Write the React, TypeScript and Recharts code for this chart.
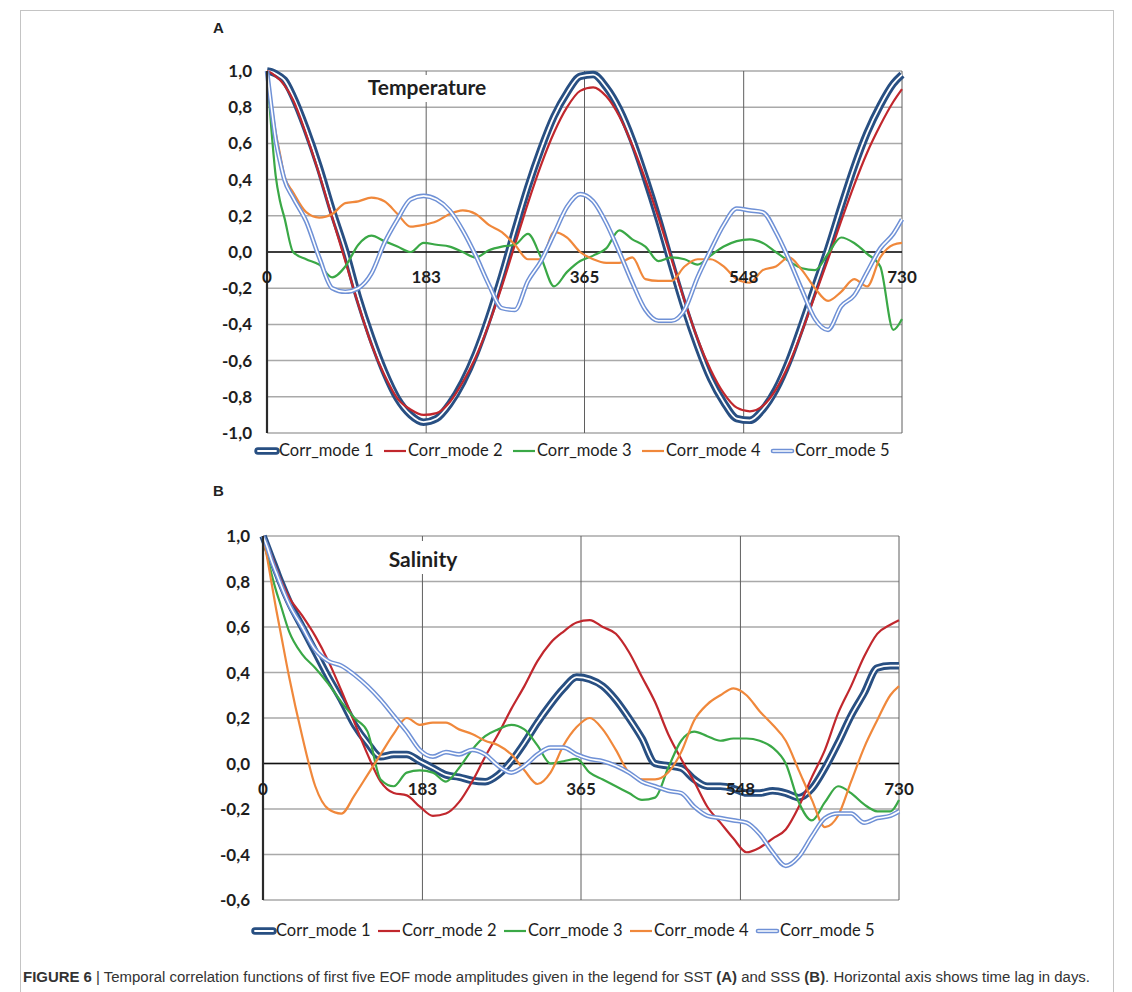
import React from 'react';
import { LineChart, Line, XAxis, YAxis, CartesianGrid, ReferenceLine, ReferenceDot } from 'recharts';

// Time lag in days (shared by all series)
const days = [0, 5, 10, 15, 20, 30, 45, 60, 75, 90, 105, 120, 135, 150, 165, 180, 195, 210, 225, 240, 255, 270, 285, 300, 315, 330, 345, 360, 375, 390, 405, 420, 435, 450, 465, 480, 495, 510, 525, 540, 555, 570, 585, 600, 615, 630, 645, 660, 675, 690, 705, 720, 730];

// Panel A: Temperature (SST)
const tempMode1 = [1.00, 0.995, 0.985, 0.97, 0.95, 0.86, 0.68, 0.47, 0.23, 0.01, -0.25, -0.47, -0.66, -0.81, -0.90, -0.94, -0.92, -0.84, -0.72, -0.56, -0.36, -0.13, 0.12, 0.36, 0.57, 0.75, 0.88, 0.97, 0.98, 0.91, 0.79, 0.62, 0.41, 0.18, -0.07, -0.31, -0.52, -0.70, -0.83, -0.92, -0.93, -0.87, -0.76, -0.60, -0.40, -0.19, 0.02, 0.25, 0.47, 0.66, 0.81, 0.93, 0.98];
const tempMode2 = [1.00, 0.99, 0.97, 0.95, 0.92, 0.84, 0.65, 0.43, 0.19, -0.05, -0.29, -0.51, -0.68, -0.81, -0.87, -0.90, -0.89, -0.83, -0.72, -0.58, -0.40, -0.19, 0.04, 0.27, 0.48, 0.66, 0.80, 0.89, 0.91, 0.86, 0.75, 0.59, 0.40, 0.19, -0.04, -0.27, -0.48, -0.65, -0.78, -0.86, -0.88, -0.85, -0.76, -0.62, -0.44, -0.24, -0.04, 0.17, 0.37, 0.55, 0.70, 0.83, 0.90];
const tempMode3 = [1.00, 0.68, 0.42, 0.28, 0.19, 0.00, -0.04, -0.07, -0.14, -0.08, 0.04, 0.09, 0.06, 0.03, 0.00, 0.05, 0.04, 0.03, 0.00, -0.03, 0.01, 0.03, 0.04, 0.10, -0.03, -0.19, -0.11, -0.05, -0.02, 0.02, 0.12, 0.07, 0.03, -0.05, -0.03, -0.04, -0.07, -0.02, 0.03, 0.06, 0.07, 0.05, 0.00, -0.05, -0.09, -0.10, -0.01, 0.08, 0.05, -0.01, -0.08, -0.43, -0.37];
const tempMode4 = [1.00, 0.82, 0.66, 0.54, 0.42, 0.33, 0.22, 0.19, 0.21, 0.27, 0.28, 0.30, 0.28, 0.21, 0.14, 0.15, 0.17, 0.21, 0.23, 0.21, 0.15, 0.11, 0.04, -0.04, -0.04, 0.11, 0.08, 0.00, -0.04, -0.06, -0.06, -0.03, -0.15, -0.16, -0.16, -0.08, -0.04, -0.04, -0.08, -0.15, -0.17, -0.10, -0.08, -0.03, -0.10, -0.20, -0.27, -0.22, -0.15, -0.19, -0.03, 0.04, 0.05];
const tempMode5 = [1.00, 0.80, 0.62, 0.50, 0.40, 0.30, 0.17, -0.03, -0.20, -0.22, -0.20, -0.12, 0.05, 0.18, 0.29, 0.31, 0.29, 0.23, 0.12, -0.02, -0.18, -0.31, -0.32, -0.16, -0.05, 0.10, 0.25, 0.32, 0.28, 0.16, 0.00, -0.17, -0.32, -0.38, -0.38, -0.32, -0.14, 0.01, 0.15, 0.24, 0.23, 0.22, 0.11, -0.04, -0.21, -0.37, -0.43, -0.30, -0.24, -0.11, 0.02, 0.10, 0.18];

// Panel B: Salinity (SSS)
const salMode1 = [1.00, 0.95, 0.90, 0.85, 0.80, 0.71, 0.60, 0.49, 0.38, 0.28, 0.17, 0.09, 0.03, 0.04, 0.04, 0.01, -0.02, -0.05, -0.06, -0.075, -0.08, -0.05, 0.01, 0.09, 0.18, 0.26, 0.33, 0.38, 0.37, 0.34, 0.28, 0.20, 0.11, 0.00, -0.01, -0.02, -0.07, -0.10, -0.10, -0.11, -0.13, -0.13, -0.12, -0.13, -0.15, -0.11, -0.02, 0.09, 0.21, 0.31, 0.42, 0.43, 0.43];
const salMode2 = [1.00, 0.96, 0.91, 0.86, 0.81, 0.73, 0.65, 0.56, 0.45, 0.32, 0.18, 0.04, -0.08, -0.13, -0.14, -0.19, -0.23, -0.22, -0.17, -0.08, 0.03, 0.13, 0.24, 0.34, 0.45, 0.53, 0.58, 0.62, 0.63, 0.60, 0.57, 0.49, 0.38, 0.27, 0.13, 0.02, -0.08, -0.19, -0.26, -0.33, -0.39, -0.37, -0.33, -0.29, -0.19, -0.06, 0.06, 0.22, 0.34, 0.47, 0.57, 0.61, 0.63];
const salMode3 = [1.00, 0.91, 0.83, 0.76, 0.70, 0.58, 0.48, 0.42, 0.35, 0.27, 0.20, 0.14, -0.07, -0.10, -0.04, -0.03, -0.04, -0.08, -0.02, 0.06, 0.12, 0.15, 0.17, 0.15, 0.08, 0.00, 0.01, 0.02, -0.04, -0.07, -0.10, -0.13, -0.16, -0.15, -0.02, 0.10, 0.14, 0.12, 0.10, 0.11, 0.11, 0.10, 0.07, 0.00, -0.17, -0.25, -0.17, -0.10, -0.13, -0.18, -0.21, -0.21, -0.16];
const salMode4 = [1.00, 0.90, 0.79, 0.68, 0.58, 0.38, 0.12, -0.10, -0.20, -0.22, -0.14, -0.05, 0.04, 0.13, 0.20, 0.17, 0.18, 0.18, 0.15, 0.13, 0.10, 0.08, 0.04, -0.03, -0.09, -0.04, 0.08, 0.16, 0.20, 0.15, 0.06, -0.04, -0.07, -0.07, -0.04, 0.05, 0.19, 0.26, 0.30, 0.33, 0.30, 0.23, 0.17, 0.10, -0.03, -0.16, -0.28, -0.23, -0.08, 0.07, 0.19, 0.30, 0.34];
const salMode5 = [1.00, 0.95, 0.89, 0.84, 0.79, 0.70, 0.60, 0.50, 0.45, 0.43, 0.39, 0.34, 0.28, 0.21, 0.14, 0.06, 0.03, 0.05, 0.04, 0.06, 0.04, -0.01, -0.04, -0.01, 0.04, 0.07, 0.07, 0.04, 0.02, 0.01, -0.01, -0.04, -0.08, -0.10, -0.12, -0.13, -0.19, -0.23, -0.24, -0.25, -0.26, -0.31, -0.39, -0.45, -0.41, -0.32, -0.24, -0.22, -0.22, -0.26, -0.24, -0.23, -0.21];

const xTickDays = [0, 183, 365, 548, 730];
const tempYTicks = [-1.0, -0.8, -0.6, -0.4, -0.2, 0, 0.2, 0.4, 0.6, 0.8, 1.0];
const salYTicks = [-0.6, -0.4, -0.2, 0, 0.2, 0.4, 0.6, 0.8, 1.0];
const seriesNames = ['Corr_mode 1', 'Corr_mode 2', 'Corr_mode 3', 'Corr_mode 4', 'Corr_mode 5'];

const NAVY = '#284f82';
const RED = '#c1272d';
const GREEN = '#3aa846';
const ORANGE = '#f0883b';
const LBLUE = '#6f91d6';
const seriesColors = [NAVY, RED, GREEN, ORANGE, LBLUE];

const FONT = "Lato, 'Open Sans', sans-serif";
const TEXT = '#1e1e1e';

const buildRows = (m1: number[], m2: number[], m3: number[], m4: number[], m5: number[]) =>
  days.map((d, i) => ({ day: d, m1: m1[i], m2: m2[i], m3: m3[i], m4: m4[i], m5: m5[i] }));

const tempData = buildRows(tempMode1, tempMode2, tempMode3, tempMode4, tempMode5);
const salData = buildRows(salMode1, salMode2, salMode3, salMode4, salMode5);

const fmt = (v: number) => v.toFixed(1).replace('.', ',');

function Panel(props: {
  data: any[];
  yTicks: number[];
  yDomain: [number, number];
  width: number;
  height: number;
  margin: { top: number; right: number; bottom: number; left: number };
  axisWidth: number;
  tickMargin: number;
}) {
  const { data, yTicks, yDomain, width, height, margin, axisWidth, tickMargin } = props;
  const common = { dot: false, activeDot: false, isAnimationActive: false, type: 'monotone' as const };
  return (
    <LineChart width={width} height={height} data={data} margin={margin}>
      <CartesianGrid vertical={false} stroke="#a9a9a9" strokeWidth={1.5} />
      <CartesianGrid horizontal={false} stroke="#5f5f5f" strokeWidth={1} />
      <XAxis dataKey="day" type="number" domain={[0, 730]} ticks={xTickDays} hide />
      <YAxis
        type="number"
        domain={yDomain}
        ticks={yTicks}
        interval={0}
        width={axisWidth}
        tickLine={false}
        tickSize={0}
        tickMargin={tickMargin}
        axisLine={{ stroke: '#2a2a2a', strokeWidth: 2.2 }}
        tick={{ fontFamily: FONT, fontSize: 17, fontWeight: 700, fill: TEXT }}
        tickFormatter={fmt}
      />
      <ReferenceLine y={0} stroke="#111" strokeWidth={1.6} />
      <Line dataKey="m1" stroke={NAVY} strokeWidth={7.5} {...common} />
      <Line dataKey="m1" stroke="#ffffff" strokeWidth={1.8} {...common} />
      <Line dataKey="m2" stroke={RED} strokeWidth={2.2} {...common} />
      <Line dataKey="m3" stroke={GREEN} strokeWidth={2.2} {...common} />
      <Line dataKey="m4" stroke={ORANGE} strokeWidth={2.2} {...common} />
      <Line dataKey="m5" stroke={LBLUE} strokeWidth={4.6} {...common} />
      <Line dataKey="m5" stroke="#ffffff" strokeWidth={1.6} {...common} />
      {xTickDays.map((d) => (
        <ReferenceDot
          key={d}
          x={d}
          y={0}
          r={0}
          fill="none"
          stroke="none"
          ifOverflow="visible"
          label={{ value: String(d), position: 'bottom', offset: 19, fill: TEXT, fontSize: 17, fontWeight: 700, fontFamily: FONT }}
        />
      ))}
    </LineChart>
  );
}

function LegendIcon({ x, y, i }: { x: number; y: number; i: number }) {
  const c = seriesColors[i];
  if (i === 0) {
    return (
      <g>
        <line x1={x + 3} y1={y} x2={x + 21} y2={y} stroke={c} strokeWidth={7.5} strokeLinecap="round" />
        <line x1={x + 3} y1={y} x2={x + 21} y2={y} stroke="#fff" strokeWidth={1.8} strokeLinecap="round" />
      </g>
    );
  }
  if (i === 4) {
    return (
      <g>
        <line x1={x + 2} y1={y} x2={x + 21} y2={y} stroke={c} strokeWidth={4.6} strokeLinecap="round" />
        <line x1={x + 2} y1={y} x2={x + 21} y2={y} stroke="#fff" strokeWidth={1.6} strokeLinecap="round" />
      </g>
    );
  }
  return <line x1={x} y1={y} x2={x + 22} y2={y} stroke={c} strokeWidth={2.2} />;
}

function LegendRow({ left, y, pitch }: { left: number; y: number; pitch: number }) {
  return (
    <g>
      {seriesNames.map((name, i) => {
        const x = left + i * pitch;
        return (
          <g key={name}>
            <LegendIcon x={x} y={y - 5} i={i} />
            <text x={x + 24} y={y} fontFamily={FONT} fontSize={16.5} fill={TEXT}>
              {name}
            </text>
          </g>
        );
      })}
    </g>
  );
}

export default function App() {
  return (
    <div style={{ position: 'absolute', left: 0, top: 0, width: 1132, height: 992, background: '#fff', overflow: 'hidden' }}>
      <div style={{ position: 'absolute', left: 20, top: 10, width: 1092, height: 1000, border: '1px solid #c4c4c4' }} />
      <div style={{ position: 'absolute', left: 0, top: 0 }}>
        <Panel
          data={tempData}
          yTicks={tempYTicks}
          yDomain={[-1, 1]}
          width={960}
          height={460}
          margin={{ top: 71, right: 58, bottom: 27, left: 207 }}
          axisWidth={60}
          tickMargin={15}
        />
      </div>
      <div style={{ position: 'absolute', left: 0, top: 500 }}>
        <Panel
          data={salData}
          yTicks={salYTicks}
          yDomain={[-0.6, 1]}
          width={960}
          height={430}
          margin={{ top: 36, right: 61, bottom: 30, left: 203 }}
          axisWidth={60}
          tickMargin={13}
        />
      </div>
      <svg width={1132} height={992} style={{ position: 'absolute', left: 0, top: 0, pointerEvents: 'none' }}>
        <text x={213} y={33} fontFamily="'Liberation Sans', Arial, sans-serif" fontWeight={700} fontSize={15} fill="#222">A</text>
        <text x={213} y={496} fontFamily="'Liberation Sans', Arial, sans-serif" fontWeight={700} fontSize={15} fill="#222">B</text>

        <rect x={360} y={75} width={134} height={27} fill="#fff" />
        <text x={427} y={95} textAnchor="middle" fontFamily={FONT} fontWeight={700} fontSize={21} fill={TEXT}>Temperature</text>

        <rect x={380} y={541} width={86} height={33} fill="#fff" />
        <text x={423} y={567} textAnchor="middle" fontFamily={FONT} fontWeight={700} fontSize={21} fill={TEXT}>Salinity</text>

        <LegendRow left={255} y={456} pitch={129} />
        <LegendRow left={252} y={936} pitch={126} />

        <text x={23} y={982} textLength={1067} lengthAdjust="spacingAndGlyphs" fontFamily="'Liberation Sans', Arial, sans-serif" fontSize={14} fill="#333">
          <tspan fontWeight={700}>FIGURE 6</tspan>
          <tspan> | Temporal correlation functions of first five EOF mode amplitudes given in the legend for SST </tspan>
          <tspan fontWeight={700}>(A)</tspan>
          <tspan> and SSS </tspan>
          <tspan fontWeight={700}>(B)</tspan>
          <tspan>. Horizontal axis shows time lag in days.</tspan>
        </text>
      </svg>
    </div>
  );
}
